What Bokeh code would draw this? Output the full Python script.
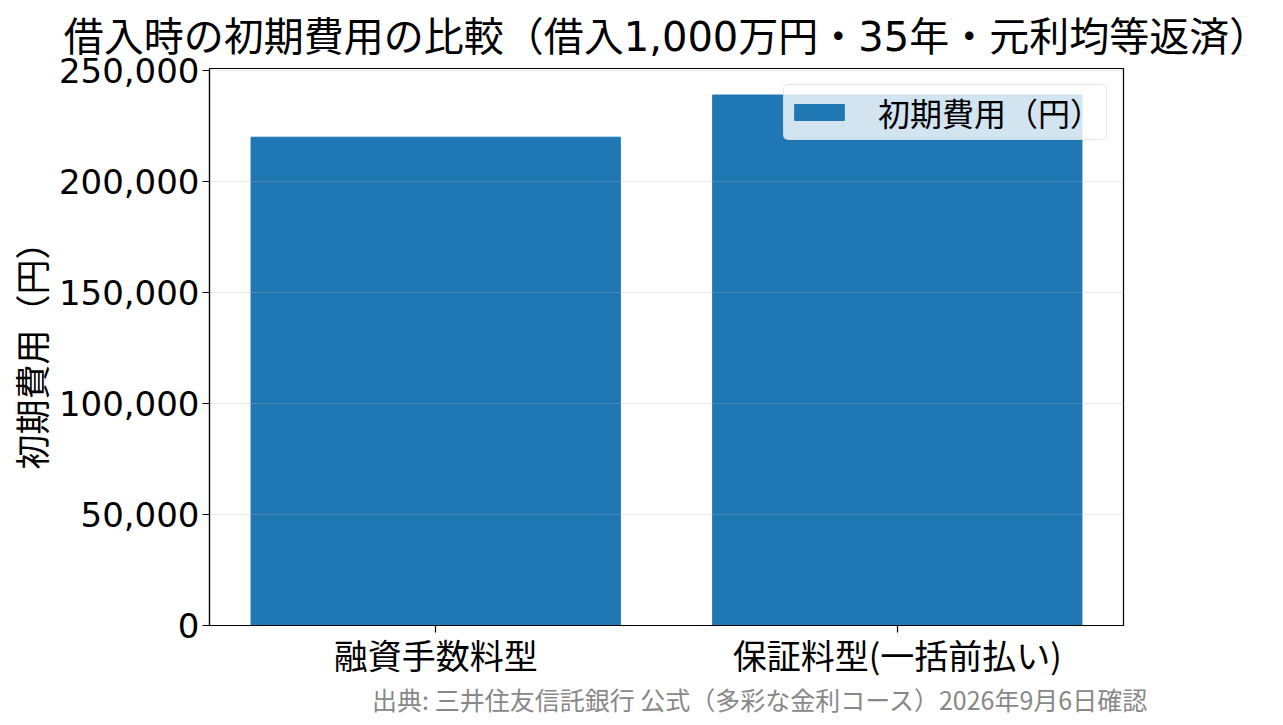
import numpy as np
from bokeh.plotting import figure
from bokeh.models import (Range1d, FixedTicker, NumeralTickFormatter, Title,
                          ColumnDataSource)
from bokeh.embed import file_html
from bokeh.resources import INLINE

# ---- data ----
categories = ["融資手数料型", "保証料型(一括前払い)"]
initial_costs = [220000, 239000]
y_ticks = [0, 50000, 100000, 150000, 200000, 250000]
title_text = "借入時の初期費用の比較（借入1,000万円・35年・元利均等返済）"
y_label_text = "初期費用（円）"
legend_text = "初期費用（円）"
source_text = "出典: 三井住友信託銀行 公式（多彩な金利コース）2026年9月6日確認"

FONT = "Noto Sans CJK JP"
MIX_FONT = "DejaVu Sans, Noto Sans CJK JP"
BAR_COLOR = "#1f77b4"

W, H = 1280, 722
x_pos = list(np.arange(len(categories)))

src = ColumnDataSource(dict(x=x_pos, top=initial_costs))

p = figure(width=W, height=H, output_backend="svg", toolbar_location=None,
           x_range=Range1d(-0.49, 1.49),
           y_range=Range1d(0, max(initial_costs) * 1.05),
           min_border_left=209, min_border_right=W - 1123,
           min_border_top=68, min_border_bottom=H - 625)
p.background_fill_color = "white"
p.border_fill_color = "white"
p.outline_line_color = "black"
p.outline_line_width = 1.2

p.vbar(x="x", top="top", width=0.8, bottom=0, source=src, color=BAR_COLOR,
       legend_label=legend_text)

# title
p.title.text = title_text
p.title.text_font = MIX_FONT
p.title.text_font_size = "40px"
p.title.text_font_style = "normal"
p.title.text_color = "black"
p.title.align = "center"
p.title.offset = -7
p.title.standoff = 18

# axes
p.yaxis.ticker = FixedTicker(ticks=y_ticks)
p.yaxis.formatter = NumeralTickFormatter(format="0,0")
p.xaxis.ticker = FixedTicker(ticks=x_pos)
p.xaxis.major_label_overrides = {int(i): c for i, c in zip(x_pos, categories)}
for ax in (p.xaxis[0], p.yaxis[0]):
    ax.axis_line_color = "black"
    ax.axis_line_width = 1.2
    ax.major_tick_line_color = "black"
    ax.major_tick_line_width = 1.2
    ax.major_tick_out = 7
    ax.major_tick_in = 0
    ax.minor_tick_line_color = None
    ax.major_label_text_color = "black"
p.xaxis.major_label_text_font = FONT
p.xaxis.major_label_text_font_size = "34px"
p.yaxis.major_label_text_font = "DejaVu Sans"
p.yaxis.major_label_text_font_size = "34px"
p.yaxis.major_label_standoff = 3
p.xaxis.major_label_standoff = -3

p.yaxis.axis_label = y_label_text
p.yaxis.axis_label_text_font = FONT
p.yaxis.axis_label_text_font_size = "35px"
p.yaxis.axis_label_text_font_style = "normal"
p.yaxis.axis_label_text_color = "black"
p.yaxis.axis_label_standoff = 0

# grid above bars, faint
p.xgrid.grid_line_color = None
p.ygrid.grid_line_color = "#b0b0b0"
p.ygrid.grid_line_alpha = 0.3
p.ygrid.grid_line_width = 1
p.ygrid.level = "overlay"

# legend
lg = p.legend[0]
lg.location = "top_right"
lg.margin = 16
lg.padding = 4
lg.glyph_width = 62
lg.glyph_height = 20
lg.label_standoff = 28
lg.label_text_font = FONT
lg.label_text_font_size = "32px"
lg.label_text_color = "black"
lg.background_fill_color = "white"
lg.background_fill_alpha = 0.8
lg.border_line_color = "#cccccc"
lg.border_line_width = 1.5
lg.border_radius = 5

# source note
p.add_layout(Title(text=source_text, text_font=FONT, text_font_size="25px",
                   text_font_style="normal", text_color="#888888",
                   align="right", offset=-25, standoff=-5), "below")

open("out.html", "w").write(file_html(p, INLINE))
